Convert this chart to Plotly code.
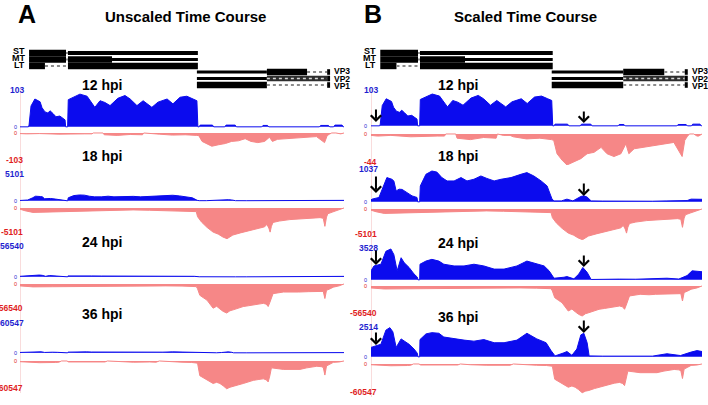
import plotly.graph_objects as go

FONT = "Liberation Sans, Arial, sans-serif"
W, H = 708, 405
BLUE = "#0B0BEE"
RED = "#F68787"
BLUE_TXT = "#1F1FD0"
RED_TXT = "#E01E1E"

# ---------------- data ----------------
TIMES = ["12 hpi", "18 hpi", "24 hpi", "36 hpi"]
BLUE_MAX_A = [103, 5101, 56540, 60547]
RED_MAX_A = [103, 5101, 56540, 60547]
BLUE_MAX_B = [103, 1037, 3528, 2514]
RED_MAX_B = [44, 5101, 56540, 60547]

# genome position (0..1000 map units) and coverage (reads)
BLUE_12_X = [0, 26, 28, 34, 46, 56, 62, 68, 77, 86, 93, 102, 111, 123, 133, 139, 141, 147, 149, 165,
             185, 207, 231, 247, 262, 278, 302, 324, 340, 361, 380, 407, 426, 454, 472, 494, 515, 534, 546, 549,
             553, 556, 594, 598, 632, 636, 664, 668, 746, 750, 764, 768, 924, 928, 952, 956, 968, 972, 994, 998, 1000]
BLUE_12_Y = [0, 0, 5, 60, 80, 75, 72, 55, 43, 40, 46, 38, 29, 31, 25, 20, 0, 0, 78, 85,
             94, 88, 56, 75, 70, 61, 82, 90, 80, 61, 75, 56, 71, 80, 66, 85, 88, 80, 75, 0,
             0, 5, 5, 0, 0, 5, 5, 0, 0, 4, 4, 0, 0, 4, 4, 0, 0, 5, 5, 0, 0]

BLUE_18_X = [0, 3, 24, 39, 48, 63, 69, 76, 85, 94, 109, 124, 139, 141, 147, 149, 166, 184, 199, 214,
             230, 251, 272, 290, 311, 332, 350, 372, 393, 423, 453, 471, 492, 514, 532, 547, 553, 575, 592, 610,
             634, 643, 653, 665, 700, 750, 800, 850, 894, 930, 955, 967, 985, 1000]
BLUE_18_Y = [60, 85, 138, 502, 766, 713, 660, 345, 399, 392, 295, 188, 138, 0, 0, 502, 870, 973, 940, 766,
             660, 660, 766, 660, 713, 817, 740, 660, 713, 766, 870, 923, 817, 660, 502, 85, 30, 30, 85, 30,
             170, 190, 150, 30, 25, 20, 25, 20, 30, 25, 40, 85, 85, 80]

BLUE_24_X = [0, 9, 30, 45, 60, 69, 79, 91, 100, 115, 130, 140, 142, 147, 148, 166, 184, 205, 220, 251,
             281, 311, 341, 372, 402, 441, 471, 501, 523, 538, 553, 583, 592, 613, 628, 640, 653, 665, 700, 750,
             800, 850, 894, 930, 955, 970, 1000]
BLUE_24_Y = [1000, 1540, 1730, 3160, 3420, 2800, 1000, 2450, 1910, 1370, 650, 300, 0, 0, 1730, 2080, 2270, 2080, 1730, 1540,
             1540, 1730, 1540, 1190, 1190, 1540, 2080, 1730, 1540, 1000, 180, 290, 360, 110, 650, 1370, 830, 40, 70, 80,
             70, 90, 180, 90, 470, 1000, 900]

BLUE_36_X = [0, 15, 30, 45, 57, 66, 76, 91, 100, 115, 130, 140, 142, 147, 148, 166, 184, 205, 220, 251,
             281, 311, 341, 372, 402, 441, 471, 501, 529, 544, 556, 583, 592, 607, 622, 634, 643, 653, 659, 700,
             750, 800, 850, 894, 935, 967, 985, 1000]
BLUE_36_Y = [795, 925, 1060, 2250, 2460, 2110, 795, 1510, 1320, 1060, 660, 300, 0, 0, 1455, 1930, 2040, 1985, 1670, 1510,
             1410, 1320, 1455, 1190, 1190, 1410, 1985, 1510, 1190, 525, 80, 340, 450, 130, 660, 1850, 1985, 1190, 80, 60,
             60, 70, 60, 260, 110, 400, 525, 450]

RED_12_X = [0, 20, 60, 120, 200, 222, 226, 256, 260, 300, 340, 378, 382, 400, 420, 430, 470, 510, 545, 552,
            562, 577, 592, 613, 634, 653, 674, 695, 713, 734, 755, 770, 779, 795, 825, 855, 885, 915, 940, 948,
            955, 962, 975, 985, 990, 1000]
RED_12_Y = [-2, -3, -2, -4, -3, -3, 0, 0, -6, -8, -5, -6, 0, -2, -2, -4, -7, -6, -8, -9,
            -28, -37, -44, -39, -35, -28, -26, -19, -28, -32, -28, -14, -28, -21, -19, -17, -14, -12, -32, -9,
            -4, 0, 0, -3, -3, 0]

RED_18_X = [0, 15, 40, 90, 145, 200, 247, 300, 349, 400, 454, 500, 525, 544, 548, 560, 577, 596, 612, 626,
            639, 648, 657, 680, 701, 720, 741, 755, 762, 768, 772, 776, 781, 800, 833, 860, 895, 926, 936, 941,
            946, 950, 966, 985, 997, 1000]
RED_18_Y = [-200, -450, -730, -650, -580, -500, -430, -380, -320, -380, -430, -500, -580, -600, -1430, -2300, -3180, -3970, -4300, -4770,
            -5050, -4700, -4450, -4100, -3810, -3600, -3340, -3100, -2700, -3300, -3970, -3000, -2380, -2150, -1910, -1850, -1750, -1590, -1700, -3020,
            -1500, -950, -640, -350, -160, 0]

RED_24_X = [0, 40, 100, 145, 200, 250, 300, 350, 400, 450, 500, 530, 544, 548, 555, 566, 577, 596, 607, 617,
            627, 638, 648, 658, 675, 689, 705, 720, 735, 751, 760, 766, 771, 776, 781, 813, 840, 860, 890, 916,
            926, 936, 941, 946, 957, 967, 985, 997, 1000]
RED_24_Y = [-3600, -5500, -5200, -5000, -4300, -3600, -3300, -3000, -3300, -3600, -4000, -4500, -5000, -9100, -21300, -26000, -30400, -45600, -42000, -47000,
            -51600, -54700, -50500, -48700, -45000, -42500, -41000, -39500, -38000, -36500, -38000, -42500, -35000, -27400, -18200, -15200, -16000, -15200, -14500, -14000,
            -13000, -14000, -27400, -12000, -9100, -6000, -3500, -1800, 0]

RED_36_X = [0, 20, 60, 110, 120, 128, 145, 150, 200, 240, 262, 270, 300, 350, 400, 420, 430, 470, 500, 530,
            544, 548, 555, 566, 577, 596, 607, 617, 627, 638, 648, 658, 675, 689, 705, 720, 735, 751, 760, 766,
            771, 776, 813, 840, 864, 885, 916, 930, 936, 941, 946, 957, 967, 985, 997, 1000]
RED_36_Y = [-1500, -2500, -3500, -3000, -2500, 0, 0, -2000, -2500, -2000, -2000, 0, -1500, -2500, -2000, -2500, 0, -2000, -2500, -3000,
            -3500, -4400, -29700, -34000, -39100, -45400, -43000, -45400, -50000, -56100, -53000, -51700, -48000, -45400, -42000, -39100, -37500, -36000, -38000, -42200,
            -30000, -13900, -17000, -16500, -17000, -13900, -10700, -11500, -13000, -28400, -10000, -6300, -2800, -2000, -1500, 0]

BLUE_X = [BLUE_12_X, BLUE_18_X, BLUE_24_X, BLUE_36_X]
BLUE_Y = [BLUE_12_Y, BLUE_18_Y, BLUE_24_Y, BLUE_36_Y]
RED_X = [RED_12_X, RED_18_X, RED_24_X, RED_36_X]
RED_Y = [RED_12_Y, RED_18_Y, RED_24_Y, RED_36_Y]

# gene annotation (map units)
GENE_ROWS = ["ST", "MT", "LT", "VP3", "VP2", "VP1"]
GENE_SEGMENTS = [
    ("ST", 28, 142, "thick"), ("ST", 142, 148, "dot"), ("ST", 148, 549, "mid"),
    ("MT", 28, 142, "thick"), ("MT", 142, 148, "dot"), ("MT", 148, 284, "thick"), ("MT", 284, 549, "thin"),
    ("LT", 28, 77, "thick"), ("LT", 77, 148, "dot"), ("LT", 148, 549, "thick"),
    ("VP3", 546, 762, "thin"), ("VP3", 762, 886, "thick"), ("VP3", 886, 948, "dot"), ("VP3", 948, 957, "box"),
    ("VP2", 546, 762, "thin"), ("VP2", 762, 948, "stripe"), ("VP2", 948, 957, "box"),
    ("VP1", 546, 762, "thick"), ("VP1", 762, 948, "dot"), ("VP1", 948, 957, "box"),
]
ARROW_POS = [15, 643]

# ---------------- layout geometry (pixels) ----------------
ROW_Y = {"ST": 53, "MT": 59.5, "LT": 66, "VP3": 72, "VP2": 78.5, "VP1": 85}
LABEL_Y = {"ST": 51, "MT": 58, "LT": 65, "VP3": 71.5, "VP2": 78.5, "VP1": 85.5}
PANELS = [
    dict(key="A", xaxis="x", x0=20, x1=344, lab_r=26, zero_x=15, title="Unscaled Time Course", title_x=185,
         letter="A", letter_x=27, hpi_x=102, blue_max=BLUE_MAX_A, red_max=RED_MAX_A,
         tracks=[(91, 128, 132, 164), (170, 202, 207, 239), (247, 278, 283, 314), (323, 354, 360, 391)],
         blue_lab=[90, 174, 246, 323], red_lab=[160, 232, 308, 388], hpi_y=[85, 156, 242, 314], arrows=None),
    dict(key="B", xaxis="x2", x0=371, x1=702, lab_r=380, zero_x=366, title="Scaled Time Course", title_x=525,
         letter="B", letter_x=373, hpi_x=458, blue_max=BLUE_MAX_B, red_max=RED_MAX_B,
         tracks=[(91, 127, 133, 165), (169, 203, 208, 240), (248, 281, 285, 317), (327, 358, 363, 395)],
         blue_lab=[90, 169, 248, 327], red_lab=[162, 234, 313, 392], hpi_y=[85, 156, 243, 317],
         arrows=[[(122, 108), (123, 110)], [(193, 175), (196, 182)], [(265, 249), (267, 254)], [(345, 331), (333, 319)]]),
]


def yp(p):
    return 1 - p / H


def xp(p):
    return p / W


fig = go.Figure()
layout = dict(width=W, height=H, margin=dict(l=0, r=0, t=0, b=0), autosize=False,
              paper_bgcolor="white", plot_bgcolor="rgba(0,0,0,0)", showlegend=False)
shapes = []
annotations = []

yn = 0
for P in PANELS:
    xa = P["xaxis"]
    xkey = "xaxis" if xa == "x" else "xaxis" + xa[1:]
    layout[xkey] = dict(domain=[xp(P["x0"]), xp(P["x1"])], range=[0, 1000], visible=False, fixedrange=True)
    # titles
    annotations.append(dict(text=P["letter"], x=xp(P["letter_x"]), y=yp(14), xref="paper", yref="paper",
                            showarrow=False, xanchor="center", yanchor="middle",
                            font=dict(family=FONT, size=25, color="black", weight="bold")))
    annotations.append(dict(text=P["title"], x=xp(P["title_x"]), y=yp(16), xref="paper", yref="paper",
                            showarrow=False, xanchor="center", yanchor="middle",
                            font=dict(family=FONT, size=15, color="black", weight="bold")))
    # gene tracks
    for row, s, e, kind in GENE_SEGMENTS:
        yc = ROW_Y[row]
        if kind in ("thick", "mid", "thin", "box"):
            hh = {"thick": 3.2, "mid": 2.0, "thin": 1.4, "box": 2.8}[kind]
            shapes.append(dict(type="rect", xref=xa, yref="paper", x0=s, x1=e, y0=yp(yc + hh), y1=yp(yc - hh),
                               fillcolor="black", line=dict(width=0), layer="above"))
        elif kind == "stripe":
            shapes.append(dict(type="rect", xref=xa, yref="paper", x0=s, x1=e, y0=yp(yc + 2.8), y1=yp(yc - 2.8),
                               fillcolor="#2e2e2e", line=dict(width=0), layer="above"))
            shapes.append(dict(type="line", xref=xa, yref="paper", x0=s, x1=e, y0=yp(yc), y1=yp(yc),
                               line=dict(color="#d8d8d8", width=1.5, dash="dot"), layer="above"))
        else:
            shapes.append(dict(type="line", xref=xa, yref="paper", x0=s, x1=e, y0=yp(yc), y1=yp(yc),
                               line=dict(color="#8c8c8c", width=2, dash="dot"), layer="above"))
    for row in GENE_ROWS:
        early = row in ("ST", "MT", "LT")
        annotations.append(dict(text=row, xref=xa, yref="paper",
                                x=21 if early else 964, y=yp(LABEL_Y[row]),
                                xanchor="right" if early else "left", yanchor="middle", showarrow=False,
                                font=dict(family=FONT, size=9 if early else 8.5, color="black", weight="bold")))
    # left pink axis line
    shapes.append(dict(type="line", xref=xa, yref="paper", x0=0, x1=0,
                       y0=yp(P["tracks"][-1][3] + 2), y1=yp(P["tracks"][0][0] - 2),
                       line=dict(color="#F3B9B9", width=1), layer="below"))
    for i, t in enumerate(TIMES):
        bt, bb, rt, rb = P["tracks"][i]
        bmax = P["blue_max"][i]
        rmax = P["red_max"][i]
        # blue axis
        yn += 1
        ybn = "y" if yn == 1 else "y%d" % yn
        layout["yaxis" if yn == 1 else "yaxis%d" % yn] = dict(
            domain=[yp(bb), yp(bt)], range=[-bmax * 1.2 / (bb - bt), bmax], visible=False,
            anchor=xa, fixedrange=True)
        fig.add_trace(go.Scatter(x=BLUE_X[i], y=BLUE_Y[i], xaxis=xa, yaxis=ybn, mode="lines",
                                 line=dict(color=BLUE, width=1), fill="tozeroy", fillcolor=BLUE,
                                 hoverinfo="skip"))
        # red axis
        yn += 1
        yrn = "y%d" % yn
        layout["yaxis%d" % yn] = dict(
            domain=[yp(rb), yp(rt)], range=[-rmax, rmax * 1.0 / (rb - rt)], visible=False,
            anchor=xa, fixedrange=True)
        fig.add_trace(go.Scatter(x=RED_X[i], y=RED_Y[i], xaxis=xa, yaxis=yrn, mode="lines",
                                 line=dict(color=RED, width=1), fill="tozeroy", fillcolor=RED,
                                 hoverinfo="skip"))
        # scale labels
        annotations.append(dict(text=str(bmax), x=xp(P["lab_r"]), y=yp(P["blue_lab"][i]), xref="paper",
                                yref="paper", xanchor="right", yanchor="middle", showarrow=False,
                                font=dict(family=FONT, size=8.5, color=BLUE_TXT, weight="bold")))
        annotations.append(dict(text="-" + str(rmax), x=xp(P["lab_r"] - 1), y=yp(P["red_lab"][i]), xref="paper",
                                yref="paper", xanchor="right", yanchor="middle", showarrow=False,
                                font=dict(family=FONT, size=8.5, color=RED_TXT, weight="bold")))
        annotations.append(dict(text="0", x=xp(P["zero_x"]), y=yp(bb - 1), xref="paper", yref="paper",
                                xanchor="center", yanchor="middle", showarrow=False,
                                font=dict(family=FONT, size=5.5, color=BLUE_TXT)))
        annotations.append(dict(text="0", x=xp(P["zero_x"]), y=yp(rt + 1), xref="paper", yref="paper",
                                xanchor="center", yanchor="middle", showarrow=False,
                                font=dict(family=FONT, size=5.5, color=RED_TXT)))
        # time label
        annotations.append(dict(text=t, x=xp(P["hpi_x"]), y=yp(P["hpi_y"][i]), xref="paper", yref="paper",
                                xanchor="center", yanchor="middle", showarrow=False,
                                font=dict(family=FONT, size=14, color="black", weight="bold")))
        # arrows
        if P["arrows"]:
            for j, (tip, tail) in enumerate(P["arrows"][i]):
                annotations.append(dict(text="", x=ARROW_POS[j], y=yp(tip), xref=xa, yref="paper",
                                        showarrow=True, ax=0, ay=-(tip - tail), arrowhead=4, arrowsize=1.0,
                                        arrowwidth=2, arrowcolor="black", standoff=0))

layout["shapes"] = shapes
layout["annotations"] = annotations
fig.update_layout(**layout)
fig.write_html("out.html", config={"displayModeBar": False, "staticPlot": True},
               post_script="document.body.style.margin='0';document.body.style.overflow='hidden';")
